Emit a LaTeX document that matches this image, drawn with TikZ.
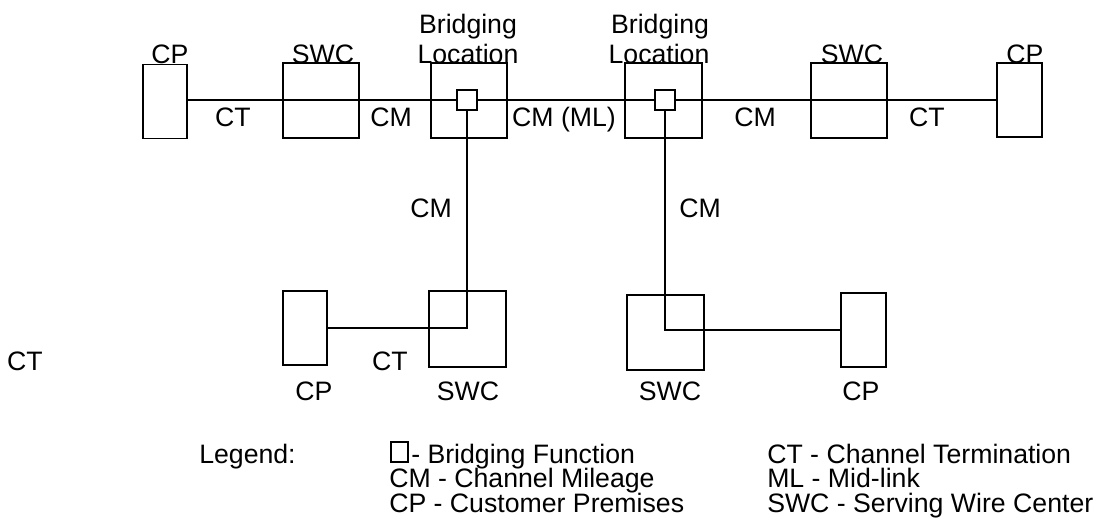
\documentclass[tikz,border=0pt]{standalone}
\usepackage{fontspec}
\setmainfont{Liberation Sans}
\begin{document}
\begin{tikzpicture}[x=0.75pt,y=-0.75pt,
  box/.style={draw, line width=1.45pt, inner sep=0pt, outer sep=0pt},
  cpbox/.style={box, minimum width=33.5pt, minimum height=55.5pt},
  swbox/.style={box, minimum width=57.5pt, minimum height=56.5pt},
  bfbox/.style={box, minimum width=15pt, minimum height=15pt},
  lbl/.style={font=\fontsize{20pt}{24pt}\selectfont, inner sep=0pt, anchor=base},
  leg/.style={lbl, anchor=base west},
  conn/.style={line width=1.45pt}]
\useasboundingbox (0,0) rectangle (1102,525);

% top row
\node[cpbox] (cpl) at (165,101.5) {};
\node[swbox] (swcl) at (321,100.5) {};
\node[swbox] (bl1) at (469,100.5) {};
\node[swbox] (bl2) at (663.5,100.5) {};
\node[swbox] (swcr) at (849,100.5) {};
\node[cpbox] (cpr) at (1019.5,100) {};
\node[bfbox] (bf1) at (467,100) {};
\node[bfbox] (bf2) at (665,100) {};

% bottom row
\node[cpbox] (cpl2) at (305,328) {};
\node[swbox] (swcl2) at (467.5,329) {};
\node[swbox] (swcr2) at (665.5,332.5) {};
\node[cpbox] (cpr2) at (863.5,330) {};

% connectors
\draw[conn] (bf1.west -| cpl.east) -- (bf1.west);
\draw[conn] (bf1.east) -- (bf2.west);
\draw[conn] (bf2.east) -- (bf2.east -| cpr.west);
\draw[conn] (bf1.south) |- (cpl2.east);
\draw[conn] (bf2.south) |- (cpr2.west);

% top labels
\node[lbl] (tcpl) at (170,63) {CP};
\node[lbl] (tswcl) at (323,63) {SWC};
\node[lbl] (tbr1) at (468,33) {Bridging};
\node[lbl] (tloc1) at (468,63) {Location};
\node[lbl] (tbr2) at (660,33) {Bridging};
\node[lbl] (tloc2) at (659,63) {Location};
\node[lbl] (tswcr) at (852,63) {SWC};
\node[lbl] (tcpr) at (1025,63) {CP};

% inline labels
\node[lbl] (ct1) at (233,126) {CT};
\node[lbl] (cm1) at (391,126) {CM};
\node[lbl] (cmml) at (564,126) {CM (ML)};
\node[lbl] (cm2) at (755,126) {CM};
\node[lbl] (ct2) at (927,126) {CT};
\node[lbl] (cmv1) at (431,217) {CM};
\node[lbl] (cmv2) at (700,217) {CM};

% bottom labels
\node[lbl] (ctleft) at (25,370) {CT};
\node[lbl] (ct3) at (390,370) {CT};
\node[lbl] (bcpl) at (314,400) {CP};
\node[lbl] (bswcl) at (468,400) {SWC};
\node[lbl] (bswcr) at (670,400) {SWC};
\node[lbl] (bcpr) at (861,400) {CP};

% legend
\node[leg] (legend) at (199,463) {Legend:};
\node[draw, line width=1pt, inner sep=0pt, minimum width=12.75pt, minimum height=15pt] (legsq) at (399.5,452) {};
\node[leg] (leg1) at (411,463) {- Bridging Function};
\node[leg] (leg2) at (389,487) {CM - Channel Mileage};
\node[leg] (leg3) at (389,512) {CP - Customer Premises};
\node[leg] (leg4) at (767,463) {CT - Channel Termination};
\node[leg] (leg5) at (767,487) {ML - Mid-link};
\node[leg] (leg6) at (767,512) {SWC - Serving Wire Center};
\end{tikzpicture}
\end{document}
